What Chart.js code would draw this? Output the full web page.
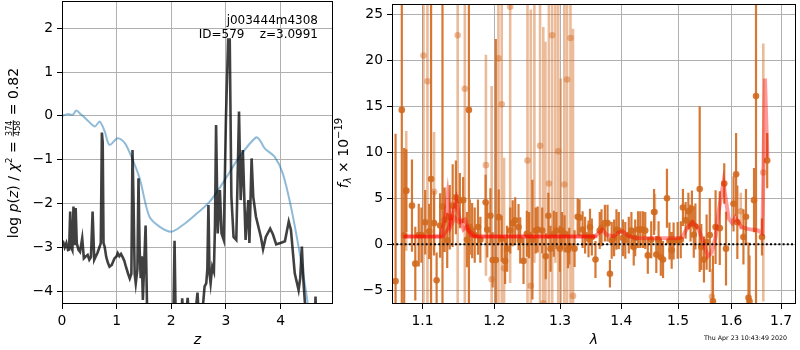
<!DOCTYPE html>
<html>
<head>
<meta charset="utf-8">
<script src="https://cdn.jsdelivr.net/npm/chart.js@4.4.1/dist/chart.umd.min.js"></script>
<style>
  body { margin: 0; background: #fff; width: 800px; height: 350px; overflow: hidden; position: relative; }
  .box { position: absolute; top: 0; height: 350px; }
  #pz-box { left: 0; width: 340px; }
  #sp-box { left: 330px; width: 470px; }
  canvas { display: block; }
  #stamp { position: absolute; right: 13px; top: 334px; font: 6.3px "DejaVu Sans"; color: #000; white-space: nowrap; }
</style>
</head>
<body>
<div class="box" id="pz-box"><canvas id="pz" width="340" height="350"></canvas></div>
<div class="box" id="sp-box"><canvas id="sp" width="470" height="350"></canvas></div>
<div id="stamp">Thu Apr 23 10:43:49 2020</div>
<script>
// p(z) panel
const zPz = [0.00,0.02,0.05,0.08,0.11,0.13,0.15,0.17,0.19,0.21,
  0.23,0.25,0.27,0.30,0.33,0.37,0.40,0.44,0.47,0.50,
  0.53,0.56,0.59,0.62,0.65,0.69,0.71,0.73,0.745,0.76,
  0.78,0.81,0.84,0.87,0.91,0.96,1.00,1.02,1.05,1.08,
  1.11,1.14,1.17,1.21,1.24,1.27,1.29,1.31,1.33,1.35,
  1.38,1.40,1.42,1.44,1.46,1.48,1.53,1.56,1.60,2.02,
  2.04,2.06,2.08,2.15,2.19,2.20,2.22,2.28,2.30,2.32,
  2.36,2.45,2.48,2.50,2.56,2.61,2.64,2.66,2.68,2.70,
  2.72,2.75,2.78,2.80,2.82,2.85,2.89,2.92,2.96,3.00,
  3.04,3.07,3.10,3.14,3.19,3.24,3.27,3.31,3.36,3.41,
  3.43,3.47,3.50,3.55,3.64,3.68,3.73,3.81,3.86,3.92,
  4.00,4.08,4.15,4.19,4.26,4.33,4.36,4.39,4.42,4.46,
  4.50,4.62,4.64,4.66];
const logPz = [-2.87,-2.87,-3.0,-2.9,-3.06,-3.05,-2.18,-3.0,-3.06,-2.07,
  -2.95,-2.1,-2.9,-3.05,-3.1,-2.79,-3.25,-3.2,-3.17,-3.28,
  -3.22,-2.18,-3.28,-3.2,-3.12,-2.98,-2.9,-0.38,-0.6,-2.9,
  -2.98,-3.22,-3.35,-3.44,-3.4,-3.25,-3.2,-3.13,-3.2,-3.15,
  -3.22,-3.3,-3.44,-3.6,-3.71,-3.6,-0.78,-2.0,-3.6,-3.82,
  -3.5,-1.42,-3.0,-3.7,-3.2,-4.2,-2.5,-4.6,-5.0,-5.0,
  -4.5,-2.85,-4.6,-5.0,-4.6,-4.16,-4.6,-4.4,-4.15,-4.5,
  -5.0,-4.4,-4.03,-4.5,-4.6,-3.89,-3.82,-3.5,-2.03,-3.6,
  -3.82,-3.44,-3.55,-2.5,-0.21,-2.68,-1.69,-2.68,-2.83,-0.09,
  1.74,1.74,-1.84,-2.76,-2.83,0.1,-1.92,-0.78,-2.83,-1.92,
  -2.9,-0.97,-1.84,-2.3,-2.76,-3.04,-2.76,-2.57,-2.7,-2.93,
  -2.9,-2.86,-2.41,-2.6,-3.59,-3.97,-3.7,-2.98,-3.8,-4.5,
  -5.0,-5.0,-4.12,-5.0];
const zChi = [0,0.1,0.2,0.26,0.35,0.45,0.6,0.69,0.78,0.87,1.02,1.15,1.27,1.42,1.6,
  1.79,2.0,2.2,2.4,2.7,2.94,3.25,3.55,3.62,3.71,3.89,4.04,4.19,4.35,4.5,4.55];
const chiScaled = [0,0.04,0.03,0.12,0.03,-0.08,-0.24,-0.13,-0.35,-0.66,-0.51,-0.62,-0.93,-1.42,-2.3,
  -2.53,-2.64,-2.5,-2.3,-1.96,-1.54,-0.93,-0.49,-0.55,-0.74,-0.93,-1.31,-2.07,-3.13,-4.3,-5.0];
const zTicks = [0,1,2,3,4];
const pzTicks = [-4,-3,-2,-1,0,1,2];

// spectrum panel: dark = full-quality bins, light = noisy bins
const lamDark = [1.0646,1.0727,1.0758,1.0785,1.086,1.0904,1.095,1.0985,1.1036,1.109,
  1.1115,1.1155,1.119,1.1237,1.127,1.130,1.1335,1.137,1.141,1.1455,
  1.151,1.1556,1.161,1.1637,1.165,1.1683,1.172,1.1766,1.180,1.1876,
  1.190,1.1945,1.1978,1.2024,1.2066,1.211,1.216,1.219,1.2236,1.2273,
  1.231,1.236,1.2385,1.2435,1.2485,1.252,1.257,1.262,1.265,1.272,
  1.2775,1.2815,1.285,1.29,1.294,1.2996,1.303,1.307,1.3125,1.3145,
  1.323,1.328,1.331,1.336,1.34,1.3456,1.348,1.351,1.357,1.364,
  1.367,1.3726,1.377,1.381,1.384,1.388,1.392,1.396,1.403,1.407,
  1.413,1.4175,1.4215,1.424,1.429,1.433,1.4375,1.4415,1.446,1.452,
  1.457,1.461,1.465,1.469,1.473,1.480,1.4845,1.4885,1.492,1.4993,
  1.505,1.509,1.514,1.519,1.523,1.5255,1.529,1.532,1.540,1.543,
  1.548,1.553,1.559,1.565,1.570,1.578,1.5866,1.590,1.6046,1.6096,
  1.612,1.624,1.629,1.634,1.636,1.645,1.649,1.661,1.6715];
const fluxDark = [-4,14.6,0.97,5.83,4.2,-2.1,1.0,1.0,2.4,1.4,
  7.1,2.3,-3.9,2.05,4.1,2.66,0.43,2.95,4.2,5.1,
  4.75,4.8,0.5,14.6,1.87,1.5,1.0,1.87,0.5,4.57,
  1.58,3.1,-1.7,-1.7,2.95,0.6,-1.8,-0.47,1.5,2.3,
  2.6,1.87,0.43,-1.8,1.15,1.0,0.5,1.5,1.6,1.5,
  -1.3,3.1,-0.47,1.15,1.5,-0.47,1.5,1.15,-0.6,-0.2,
  -0.47,3.0,2.9,1.6,1.0,0.6,1.87,0.8,-1.65,1.5,
  1.8,2.3,2.3,-3.2,0.43,0.7,1.6,1.5,0.7,0.43,
  1.0,1.5,-0.3,0.7,1.6,1.6,1.6,1.5,-1.2,0.5,
  3.5,-1.1,0.5,-1.4,-1.65,5.0,0.36,-0.65,0.36,0.43,
  0.5,4.0,2.6,3.6,2.3,3.85,1.04,1.94,6.0,-0.3,
  -1.65,0.25,1.0,-6.2,1.87,1.76,6.6,-0.47,4.4,7.6,
  2.4,0.8,3.0,-5.8,-6.2,4.8,16.1,0.8,9.1];
const errDark = [16,25,9.5,4.5,5,4,3.4,3,3.5,3,
  25,3.5,3,3.5,25,3.5,3,3.5,4.5,4,
  3,2.5,3,25,3,3,3,3,2.5,3,
  3,3,3,24,3,2.5,2.5,2.5,2.5,2.5,
  2.5,2.5,2.5,2.5,2.5,2.5,6.5,2.5,2.5,2.5,
  2.5,2.5,2.5,2.5,2,2.5,2,2,2,2,
  2,2,2,2,2,2,2,2,2,2,
  2,2,2,1.5,2,2,2.2,2,2,2,
  2,2,2,2,2,2,2,2,2,2,
  2.5,2,2,2,2,3.2,2,2,2,2,
  2,2,2,2,2,2,2.5,2.5,9,2.5,
  2.5,3,4,5,4,4,2.2,4,3,4.5,
  4,3,3,6,5,3.5,30,2,3];

const lamLight = [1.0785,1.1013,1.1066,1.1155,1.148,1.158,1.188,1.1963,1.2062,1.211,
  1.2145,1.2235,1.2495,1.2545,1.260,1.2687,1.2737,1.277,1.2824,1.2875,
  1.2925,1.297,1.301,1.3066,1.311,1.3164,1.3205,1.4585,1.563,1.6187,1.6636];
const fluxLight = [5.8,20.5,17.7,5.7,22.7,16.9,8.6,-3.8,20.2,15.2,
  -2.6,25.8,9.1,-4.5,28,10.7,-6.4,-8,6.6,22.7,
  28,10.1,-8,6.5,17.9,22.4,-5.6,3.5,-5.7,3.6,7.8];
const errLight = [6.5,30,30,6.5,30,30,12,21,30,30,
  12,30,30,30,30,30,30,30,30,30,
  30,30,26,30,30,30,29,2,3,2,14];

// best-fit templates
const lamModelA = [1.075,1.128,1.136,1.141,1.146,1.150,1.153,1.156,1.160,1.166,1.175,1.25,1.30,1.36];
const fluxModelA = [0.85,0.85,1.9,3.3,4.9,3.0,2.4,1.6,1.9,0.95,0.85,0.85,0.85,0.85];
const lamModelB = [1.075,1.124,1.130,1.134,1.138,1.144,1.150,1.158,1.164,1.173,1.25,1.355,1.362,1.368,
  1.376,1.388,1.396,1.403,1.412,1.425,1.45,1.50,1.508,1.517,1.527,1.537,1.546,1.555,1.5625,
  1.570,1.576,1.585,1.595,1.602,1.608,1.614,1.620,1.630,1.640,1.653,1.662,1.665,1.667,1.670,1.672];
const fluxModelB = [0.85,0.85,2.6,5.3,1.9,2.9,2.4,2.7,1.5,0.85,0.85,0.85,1.2,1.6,
  1.0,0.9,1.3,1.4,0.9,0.7,0.65,0.65,0.8,1.8,2.4,1.8,0.4,-1.3,-0.9,
  0.8,3.6,6.7,2.8,2.3,2.9,2.4,1.9,1.7,1.6,1.5,1.2,11.9,18.0,12.7,9.4];
const lamTicks = [1.1,1.2,1.3,1.4,1.5,1.6,1.7];
const fluxTicks = [-5,0,5,10,15,20,25];

const FONT = '"DejaVu Sans"';
Chart.defaults.font.family = FONT;
Chart.defaults.color = '#000';

const xy = (xs, ys) => xs.map((x, i) => ({x: x, y: ys[i]}));
// vertical error bars as one broken line: low, high, gap
const errBars = (xs, ys, es) => {
  const pts = [];
  xs.forEach((x, i) => {
    pts.push({x: x, y: ys[i] - es[i]}, {x: x, y: ys[i] + es[i]}, {x: x, y: null});
  });
  return pts;
};
const minus = v => String(v).replace('-', '\u2212');

// fixed axis box sizes, no extra room for edge labels
const fitX = h => s => { s.height = h; s.paddingLeft = 0; s.paddingRight = 0; };
const fitY = w => s => { s.width = w; s.paddingTop = 0; s.paddingBottom = 0; };

function axis(opts) {
  return Object.assign({
    grid: { color: '#b0b0b0', lineWidth: 1, tickColor: '#000', tickLength: 5, tickWidth: 1 },
    border: { display: false },
    ticks: { font: { size: 13.9 }, padding: 4, color: '#000', autoSkip: false, maxRotation: 0,
      callback: v => minus(v) },
  }, opts);
}

const frame = {
  id: 'frame',
  afterDatasetsDraw(chart) {
    const a = chart.chartArea, ctx = chart.ctx;
    ctx.save();
    ctx.strokeStyle = '#000';
    ctx.lineWidth = 1;
    ctx.strokeRect(Math.round(a.left) + 0.5, Math.round(a.top) + 0.5,
      Math.round(a.right - a.left) - 1, Math.round(a.bottom - a.top) - 1);
    ctx.restore();
  }
};

// draw a run of styled text pieces rotated by -90deg, centred on cy
function drawRotated(ctx, x, cy, pieces) {
  ctx.save();
  ctx.textBaseline = 'alphabetic';
  let total = 0;
  pieces.forEach(p => {
    ctx.font = p.font;
    if (p.frac) {
      p.w = Math.max(ctx.measureText(p.frac[0]).width, ctx.measureText(p.frac[1]).width) + 2;
    } else {
      p.w = ctx.measureText(p.t).width;
    }
    total += p.w;
  });
  ctx.translate(x, cy);
  ctx.rotate(-Math.PI / 2);
  let pos = -total / 2;
  pieces.forEach(p => {
    ctx.font = p.font;
    ctx.fillStyle = '#000';
    if (p.frac) {
      ctx.textAlign = 'center';
      ctx.fillText(p.frac[0], pos + p.w / 2, -6.5);
      ctx.fillText(p.frac[1], pos + p.w / 2, 1.5);
      ctx.fillRect(pos + 0.5, -5.2, p.w - 1, 0.9);
      ctx.textAlign = 'left';
    } else {
      ctx.textAlign = 'left';
      ctx.fillText(p.t, pos, p.dy || 0);
    }
    pos += p.w;
  });
  ctx.restore();
}

const pzLabels = {
  id: 'pzLabels',
  afterDraw(chart) {
    const ctx = chart.ctx, a = chart.chartArea;
    const n = '14px ' + FONT, it = 'italic 14px ' + FONT, sm = '8px ' + FONT;
    drawRotated(ctx, 18, 153, [
      {t: 'log ', font: n}, {t: 'p', font: it}, {t: '(', font: n}, {t: 'z', font: it},
      {t: ') / ', font: n}, {t: '\u03c7', font: it}, {t: '2', font: '9px ' + FONT, dy: -6},
      {t: ' = ', font: n}, {frac: ['374', '458'], font: sm}, {t: ' = 0.82', font: n}
    ]);
    ctx.save();
    ctx.font = '12px ' + FONT;
    ctx.textAlign = 'right';
    ctx.fillStyle = '#000';
    ctx.fillText('j003444m4308', a.right - 15, 24);
    ctx.fillText('ID=579    z=3.0991', a.right - 15, 38);
    ctx.restore();
  }
};

const spLabel = {
  id: 'spLabel',
  afterDraw(chart) {
    const n = '14px ' + FONT, it = 'italic 14px ' + FONT;
    drawRotated(chart.ctx, 18, 153, [
      {t: 'f', font: it}, {t: '\u03bb', font: 'italic 10px ' + FONT, dy: 3},
      {t: ' \u00d7 10', font: n}, {t: '\u221219', font: '10px ' + FONT, dy: -6}
    ]);
  }
};

new Chart(document.getElementById('pz'), {
  type: 'scatter',
  data: {
    datasets: [
      { data: xy(zPz, logPz), showLine: true, borderColor: 'rgba(0,0,0,0.75)', borderWidth: 2.6,
        pointRadius: 0, tension: 0, clip: 0, order: 1 },
      { data: xy(zChi, chiScaled), showLine: true, borderColor: 'rgba(31,119,180,0.5)', borderWidth: 2,
        pointRadius: 0, tension: 0.3, clip: 0, order: 2 }
    ]
  },
  options: {
    responsive: false, animation: false, events: [],
    layout: { padding: { left: 0, right: 7, top: 1, bottom: 0 } },
    plugins: { legend: { display: false }, tooltip: { enabled: false } },
    scales: {
      x: axis({
        type: 'linear', min: 0, max: 4.96,
        afterBuildTicks: s => { s.ticks = zTicks.map(v => ({value: v})); },
        afterFit: fitX(46),
        title: { display: true, text: 'z', font: { size: 14, style: 'italic' }, padding: { top: 0, bottom: 1 } }
      }),
      y: axis({
        min: -4.29, max: 2.62,
        afterBuildTicks: s => { s.ticks = pzTicks.map(v => ({value: v})); },
        afterFit: fitY(62)
      })
    }
  },
  plugins: [frame, pzLabels]
});

const darkOrange = 'rgba(210,105,30,0.9)';
const lightOrange = 'rgba(210,105,30,0.45)';

new Chart(document.getElementById('sp'), {
  type: 'scatter',
  data: {
    datasets: [
      { data: xy([1.06, 1.731], [0, 0]), showLine: true, borderColor: '#000', borderWidth: 2,
        borderDash: [2, 2.2], pointRadius: 0, clip: 0, order: 0 },
      { data: xy(lamModelA, fluxModelA), showLine: true, borderColor: 'rgba(255,0,0,0.45)', borderWidth: 3.5,
        pointRadius: 0, tension: 0, clip: 0, order: 1 },
      { data: xy(lamModelB, fluxModelB), showLine: true, borderColor: 'rgba(255,0,0,0.4)', borderWidth: 4,
        pointRadius: 0, tension: 0, clip: 0, order: 2 },
      { data: xy(lamDark, fluxDark), pointRadius: 3.3, pointBackgroundColor: darkOrange,
        pointBorderWidth: 0, clip: 0, order: 3 },
      { data: errBars(lamDark, fluxDark, errDark), showLine: true, spanGaps: false,
        borderColor: darkOrange, borderWidth: 2.2, pointRadius: 0, clip: 0, order: 4 },
      { data: xy(lamLight, fluxLight), pointRadius: 3.3, pointBackgroundColor: lightOrange,
        pointBorderWidth: 0, clip: 0, order: 5 },
      { data: errBars(lamLight, fluxLight, errLight), showLine: true, spanGaps: false,
        borderColor: lightOrange, borderWidth: 2.6, pointRadius: 0, clip: 0, order: 6 }
    ]
  },
  options: {
    responsive: false, animation: false, events: [],
    layout: { padding: { left: 0, right: 1, top: 1, bottom: 0 } },
    plugins: { legend: { display: false }, tooltip: { enabled: false } },
    scales: {
      x: axis({
        type: 'logarithmic', min: 1.06, max: 1.731,
        afterBuildTicks: s => { s.ticks = lamTicks.map(v => ({value: v})); },
        afterFit: fitX(46),
        ticks: { font: { size: 13.9 }, padding: 4, color: '#000', autoSkip: false, maxRotation: 0,
          callback: v => Number(v).toFixed(1) },
        title: { display: true, text: '\u03bb', font: { size: 14, style: 'italic' }, padding: { top: 0, bottom: 1 } }
      }),
      y: axis({
        min: -6.48, max: 26.1,
        afterBuildTicks: s => { s.ticks = fluxTicks.map(v => ({value: v})); },
        afterFit: fitY(62)
      })
    }
  },
  plugins: [frame, spLabel]
});
</script>
</body>
</html>
